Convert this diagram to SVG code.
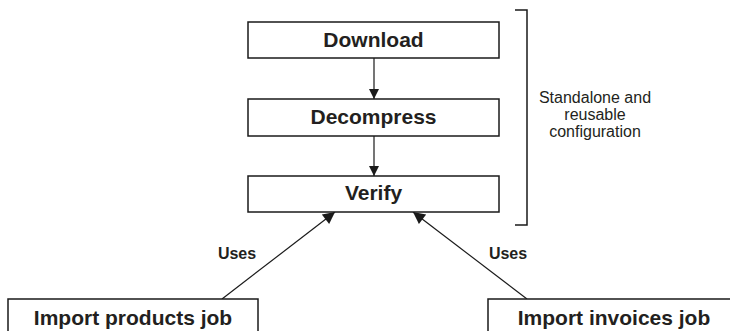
<svg xmlns="http://www.w3.org/2000/svg" width="730" height="331" viewBox="0 0 730 331">
<style>
.box{fill:#fff;stroke:#1a1a1a;stroke-width:1.5}
.t{font-family:"Liberation Sans",Arial,sans-serif;font-weight:bold;font-size:21px;fill:#231f20;text-anchor:middle}
.u{font-family:"Liberation Sans",Arial,sans-serif;font-weight:bold;font-size:16px;fill:#231f20;text-anchor:middle}
.n{font-family:"Liberation Sans",Arial,sans-serif;font-size:16px;fill:#231f20;text-anchor:middle}
.c{stroke:#1a1a1a;stroke-width:1.2;fill:none}
</style>
<defs>
<marker id="ah" viewBox="0 0 10 10" refX="10" refY="5" markerWidth="10" markerHeight="10" markerUnits="userSpaceOnUse" orient="auto">
<path d="M0,0 L10,5 L0,10 Z" fill="#1a1a1a"/>
</marker>
<marker id="ahl" viewBox="0 0 10 10" refX="10" refY="5" markerWidth="17" markerHeight="12" markerUnits="userSpaceOnUse" orient="auto">
<path d="M0,0 L10,5 L0,10 Z" fill="#1a1a1a"/>
</marker>
</defs>
<rect width="730" height="331" fill="#fff"/>
<g id="connectors">
<line class="c" x1="374" y1="58" x2="374" y2="99" marker-end="url(#ah)"/>
<line class="c" x1="374" y1="136" x2="374" y2="176" marker-end="url(#ah)"/>
<line class="c" x1="222" y1="299" x2="335" y2="212" marker-end="url(#ahl)"/>
<line class="c" x1="527" y1="299" x2="413" y2="212" marker-end="url(#ahl)"/>
<text class="u" x="237" y="259">Uses</text>
<text class="u" x="508" y="259">Uses</text>
</g>
<g id="download">
<rect class="box" x="248" y="22" width="251" height="36"/>
<text class="t" x="373.5" y="47">Download</text>
</g>
<g id="decompress">
<rect class="box" x="248" y="99" width="251" height="37"/>
<text class="t" x="373.5" y="124">Decompress</text>
</g>
<g id="verify">
<rect class="box" x="248" y="176" width="251" height="36"/>
<text class="t" x="373.5" y="200">Verify</text>
</g>
<g id="bracket">
<path d="M515,10 H527 V225 H515" fill="none" stroke="#1a1a1a" stroke-width="1.5"/>
<text class="n" x="595" y="103">Standalone and</text>
<text class="n" x="595" y="120">reusable</text>
<text class="n" x="595" y="137">configuration</text>
</g>
<g id="import-products">
<rect class="box" x="8" y="299" width="250" height="40"/>
<text class="t" x="133" y="325">Import products job</text>
</g>
<g id="import-invoices">
<rect class="box" x="488" y="299" width="252" height="40"/>
<text class="t" x="614" y="325">Import invoices job</text>
</g>
</svg>
